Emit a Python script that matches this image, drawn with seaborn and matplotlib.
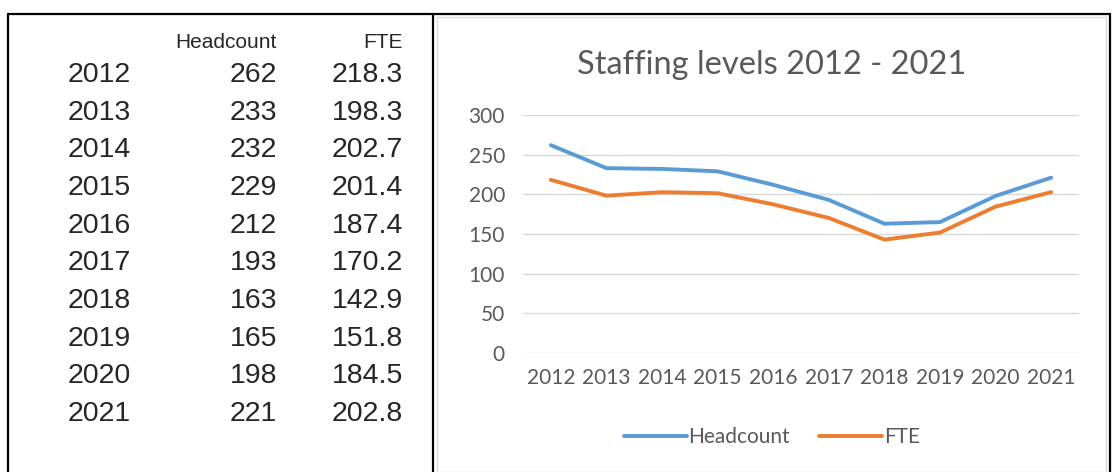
import matplotlib
matplotlib.use("Agg")
import matplotlib.pyplot as plt
import seaborn as sns
import pandas as pd
from matplotlib.lines import Line2D
from matplotlib.patches import Rectangle

# Data
years = [2012, 2013, 2014, 2015, 2016, 2017, 2018, 2019, 2020, 2021]
headcount = [262, 233, 232, 229, 212, 193, 163, 165, 198, 221]
fte = [218.3, 198.3, 202.7, 201.4, 187.4, 170.2, 142.9, 151.8, 184.5, 202.8]

df = pd.DataFrame({"Year": years * 2,
                   "Value": headcount + fte,
                   "Series": ["Headcount"] * len(years) + ["FTE"] * len(years)})

sns.set_style("white")
plt.rcParams["font.family"] = ["Lato", "DejaVu Sans"]

W, H = 1112, 472
fig = plt.figure(figsize=(W / 100, H / 100), dpi=100)

def fx(px):
    return px / W

def fy(py):
    return 1 - py / H

# Outer frame and divider
for xs, ys in [([8, 1110], [14, 14]), ([8, 8], [14, 472]), ([1110, 1110], [14, 472]),
               ([433, 433], [14, 472])]:
    fig.add_artist(Line2D([fx(x) for x in xs], [fy(y) for y in ys], color="black", lw=1.6))

# Chart box
fig.add_artist(Rectangle((fx(437), fy(472)), fx(1106 - 437), fy(17) - fy(472),
                         fill=False, edgecolor="#d9d9d9", lw=1.0))

# Table on the left
tab_font = ["Liberation Sans", "DejaVu Sans"]
fig.text(fx(277), fy(42), "Headcount", ha="right", va="center", fontsize=15, family=tab_font)
fig.text(fx(403), fy(42), "FTE", ha="right", va="center", fontsize=15, family=tab_font)
for i, (yr, hc, ft) in enumerate(zip(years, headcount, fte)):
    yy = fy(75 + i * 37.67)
    fig.text(fx(68), yy, str(yr), ha="left", va="center", fontsize=20.5, family=tab_font)
    fig.text(fx(277), yy, str(hc), ha="right", va="center", fontsize=20.5, family=tab_font)
    fig.text(fx(403), yy, f"{ft:.1f}", ha="right", va="center", fontsize=20.5, family=tab_font)

# Chart
ax = fig.add_axes([fx(523), fy(353), fx(1079 - 523), fy(115) - fy(353)])
sns.lineplot(data=df, x="Year", y="Value", hue="Series",
             palette={"Headcount": "#5b9bd5", "FTE": "#ed7d31"},
             lw=2.8, ax=ax, solid_capstyle="round")
ax.set_xlim(2011.5, 2021.5)
ax.set_ylim(0, 300)
ax.set_xticks(years)
ax.set_yticks(range(0, 301, 50))
ax.grid(axis="y", color="#d9d9d9", lw=1)
ax.set_axisbelow(True)
for s in ax.spines.values():
    s.set_visible(False)
ax.tick_params(axis="both", length=0, labelsize=15, colors="#595959")
ax.tick_params(axis="x", pad=11)
ax.tick_params(axis="y", pad=13)
ax.set_xlabel("")
ax.set_ylabel("")

fig.text(fx(772), fy(65), "Staffing levels 2012 - 2021", ha="center", va="center",
         fontsize=23.5, color="#595959")

handles, labels = ax.get_legend_handles_labels()
for h in handles:
    h.set_solid_capstyle("round")
ax.legend(handles, labels, loc="center", bbox_to_anchor=(fx(772), fy(437)),
          bbox_transform=fig.transFigure, ncol=2, frameon=False, fontsize=15,
          labelcolor="#595959", handlelength=3.0, handletextpad=0.1, columnspacing=1.4)

fig.savefig("out.png", dpi=100)
